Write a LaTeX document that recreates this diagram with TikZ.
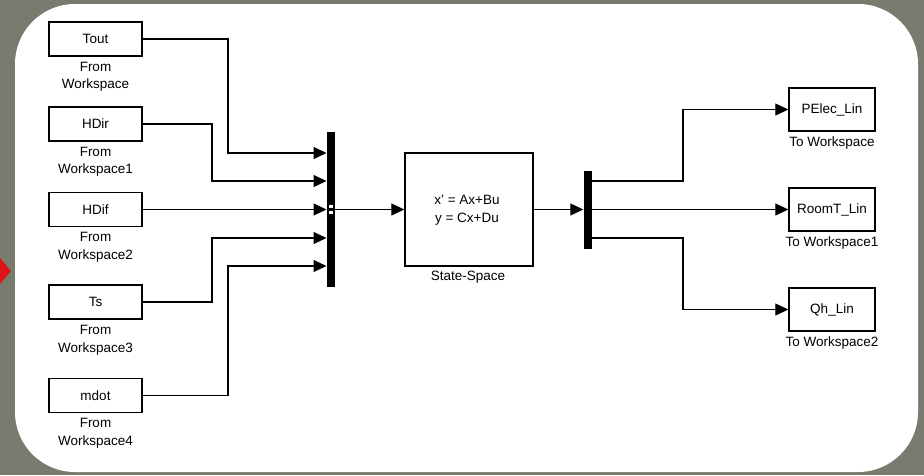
\documentclass[tikz,border=0pt]{standalone}
\usepackage{fontspec}
\setmainfont{Liberation Sans}
\usetikzlibrary{arrows.meta}
\newcommand\blkfont{\fontsize{13.5}{17.5}\selectfont}
\definecolor{bggray}{RGB}{120,124,110}
\definecolor{arrowred}{RGB}{222,20,24}
\tikzset{
  src/.style={draw, line width=1.4pt, minimum width=93pt, minimum height=34pt, inner sep=0pt, font=\blkfont},
  dst/.style={draw, line width=1.4pt, minimum width=86pt, minimum height=43pt, inner sep=0pt, font=\blkfont},
  lbl/.style={align=center, font=\blkfont, inner sep=0pt},
  bar/.style={fill=black, draw=none, inner sep=0pt, minimum width=8pt},
  conn/.style={line width=1.1pt},
  arr/.style={conn, -{Triangle[length=13pt,width=12pt]}}
}
\begin{document}
\begin{tikzpicture}[x=1pt,y=-1pt]
\useasboundingbox (0,0) rectangle (924,475);
\fill[bggray] (0,0) rectangle (924,475);
\fill[arrowred] (0,258) -- (11,271) -- (0,284) -- cycle;
\fill[white, rounded corners=60pt] (15,4) rectangle (918,472);

% sources
\node[src] (tout) at (95.5,39) {Tout};
\node[lbl] (toutl) at (95.5,77) {From\\Workspace};
\node[src] (hdir) at (95.5,124) {HDir};
\node[lbl] (hdirl) at (95.5,162) {From\\Workspace1};
\node[src] (hdif) at (95.5,209.5) {HDif};
\node[lbl] (hdifl) at (95.5,247) {From\\Workspace2};
\node[src] (ts) at (95.5,302) {Ts};
\node[lbl] (tsl) at (95.5,340) {From\\Workspace3};
\node[src] (mdot) at (95.5,395.5) {mdot};
\node[lbl] (mdotl) at (95.5,433) {From\\Workspace4};

% mux
\node[bar, minimum height=155pt] (mux) at (330.5,209.5) {};
\coordinate (in1) at (326.5,153);
\coordinate (in2) at (326.5,181);
\coordinate (in3) at (326.5,209.5);
\coordinate (in4) at (326.5,238);
\coordinate (in5) at (326.5,266);
\draw[fill=white, line width=0.4pt] (328,204) rectangle (333,208.5);
\draw[fill=white, line width=0.4pt] (328,210) rectangle (333,214.5);

\draw[arr] (tout.east) -- (228,39) |- (in1);
\draw[arr] (hdir.east) -- (212,124) |- (in2);
\draw[arr] (hdif.east) -- (in3);
\draw[arr] (ts.east) -- (212,302) |- (in4);
\draw[arr] (mdot.east) -- (228,395.5) |- (in5);

% state space
\node[draw, line width=1.4pt, minimum width=128pt, minimum height=113pt, inner sep=0pt] (ss) at (469,209.5) {};
\node[lbl, font=\fontsize{13.5}{18}\selectfont] (sst) at (467,210) {x' = Ax+Bu\\y = Cx+Du};
\node[lbl] (ssl) at (468,277) {State-Space};
\draw[arr] (mux.east) -- (ss.west);

% demux
\node[bar, minimum height=78pt] (demux) at (587.5,209.5) {};
\draw[arr] (ss.east) -- (demux.west);
\coordinate (out1) at (591.5,181);
\coordinate (out3) at (591.5,238);

% destinations
\node[dst] (pelec) at (832,109.5) {PElec\_Lin};
\node[lbl] (pelecl) at (832,143) {To Workspace};
\node[dst] (roomt) at (832,209.5) {RoomT\_Lin};
\node[lbl] (roomtl) at (832,243) {To Workspace1};
\node[dst] (qh) at (832,309.5) {Qh\_Lin};
\node[lbl] (qhl) at (832,343) {To Workspace2};

\draw[arr] (out1) -- (683,181) |- (pelec.west);
\draw[arr] (demux.east) -- (roomt.west);
\draw[arr] (out3) -- (683,238) |- (qh.west);
\end{tikzpicture}
\end{document}
